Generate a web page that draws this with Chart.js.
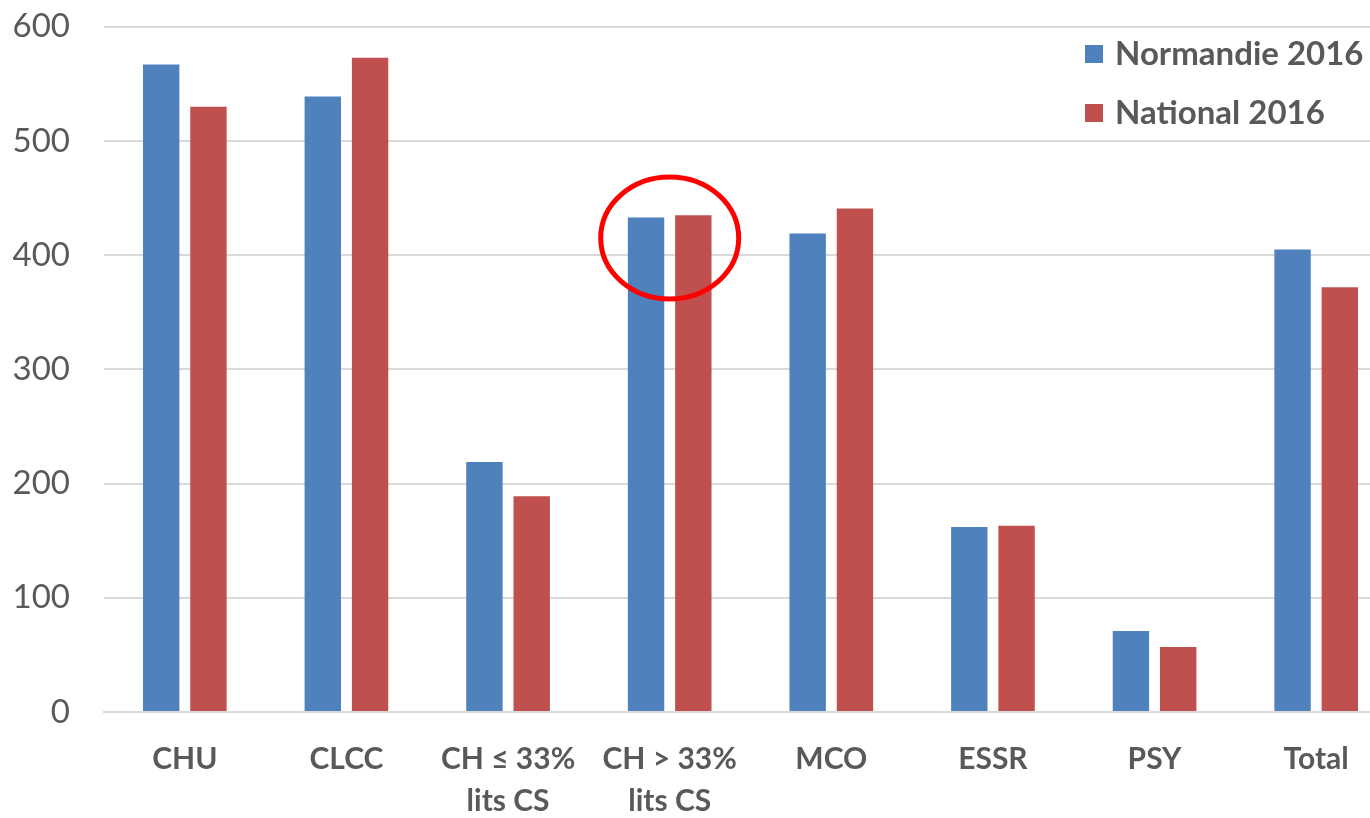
<!DOCTYPE html>
<html lang="fr">
<head>
    <meta charset="UTF-8">
    <title>Normandie vs National 2016</title>
    <script src="https://cdn.jsdelivr.net/npm/chart.js"></script>
    <style>
        html, body { margin: 0; padding: 0; background: #fff; overflow: hidden; }
        #wrap { position: relative; width: 1397px; height: 818px; overflow: hidden; }
        #chart { position: absolute; left: 0; top: -27px; }
        #legend {
            position: absolute; left: 1085px; top: 23px;
            font-family: Lato, "Open Sans", sans-serif; font-weight: bold;
            font-size: 33px; color: #595959; line-height: 59px;
        }
        #legend span.box { display: inline-block; width: 18px; height: 18px; margin-right: 12px; vertical-align: 2px; }
    </style>
</head>
<body>
<div id="wrap">
    <canvas id="chart" width="1397" height="845"></canvas>
    <div id="legend">
        <div><span class="box" style="background:#4f81bd"></span>Normandie 2016</div>
        <div><span class="box" style="background:#c0504d"></span>National 2016</div>
    </div>
</div>

<script>
    // categories and values
    const categories = [['CHU'], ['CLCC'], ['CH \u2264 33%', 'lits CS'], ['CH > 33%', 'lits CS'], ['MCO'], ['ESSR'], ['PSY'], ['Total']];
    const normandie = [567, 539, 219, 433, 419, 162, 71, 405];
    const national = [530, 573, 189, 435, 441, 163, 57, 372];
    const yTicks = [0, 100, 200, 300, 400, 500, 600];

    // red circle around the "CH > 33%" group
    const circlePlugin = {
        id: 'circle',
        afterDatasetsDraw(chart) {
            const x = chart.scales.x.getPixelForValue(3);
            const y = chart.scales.y.getPixelForValue(415);
            const c = chart.ctx;
            c.save();
            c.strokeStyle = '#ff0000';
            c.lineWidth = 5;
            c.beginPath();
            c.ellipse(x, y, 69, 61, 0, 0, Math.PI * 2);
            c.stroke();
            c.restore();
        }
    };

    const ctx = document.getElementById('chart').getContext('2d');
    new Chart(ctx, {
        type: 'bar',
        data: {
            labels: categories,
            datasets: [
                { label: 'Normandie 2016', data: normandie, backgroundColor: '#4f81bd' },
                { label: 'National 2016', data: national, backgroundColor: '#c0504d' }
            ]
        },
        options: {
            responsive: false,
            animation: false,
            layout: { padding: 0 },
            categoryPercentage: 0.585,
            barPercentage: 0.77,
            plugins: { legend: { display: false }, tooltip: { enabled: false } },
            scales: {
                x: {
                    grid: { display: false },
                    border: { color: '#d9d9d9', width: 2 },
                    ticks: {
                        color: '#595959', padding: 18,
                        font: { family: 'Lato, "Open Sans", sans-serif', size: 30, weight: 'bold', lineHeight: 1.4 },
                        maxRotation: 0, autoSkip: false
                    },
                    afterFit(s) { s.height = 106; }
                },
                y: {
                    min: 0, max: 600,
                    afterBuildTicks(s) { s.ticks = yTicks.map(v => ({ value: v })); },
                    grid: { color: '#d9d9d9', lineWidth: 2, drawTicks: false },
                    border: { display: false },
                    ticks: {
                        color: '#595959', padding: 34,
                        font: { family: 'Lato, "Open Sans", sans-serif', size: 33 }
                    },
                    afterFit(s) { s.width = 104; }
                }
            }
        },
        plugins: [circlePlugin]
    });
</script>
</body>
</html>
